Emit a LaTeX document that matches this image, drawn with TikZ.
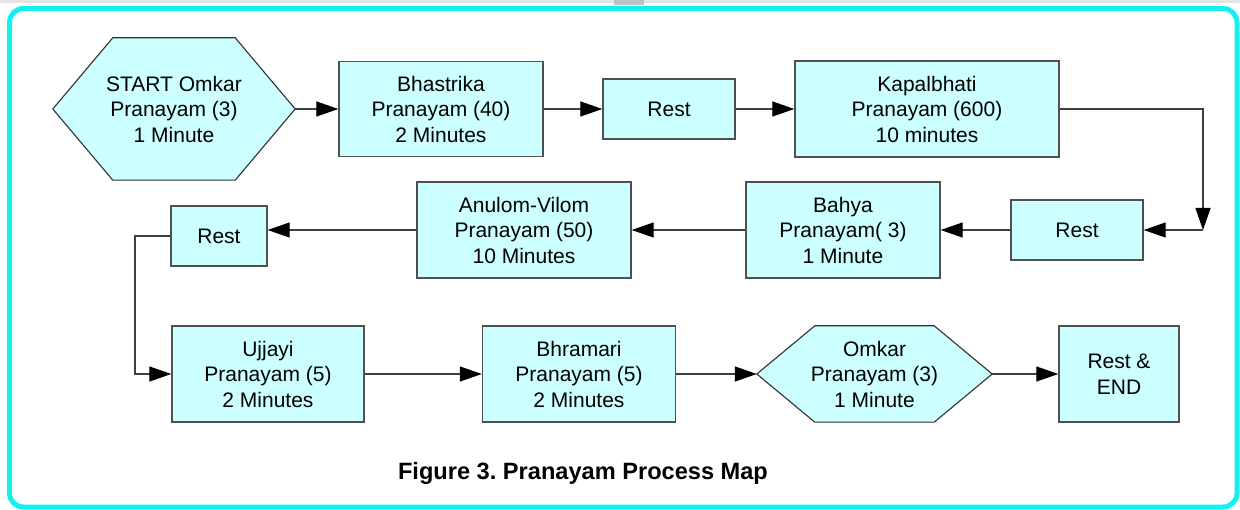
\documentclass[tikz,border=0pt]{standalone}
\usepackage{fontspec}
\setmainfont{Liberation Sans}
\usetikzlibrary{arrows.meta,backgrounds}
\frenchspacing
\newfontfamily\pmNodeFamily{Liberation Sans}
\newcommand\pmNodeFont{\pmNodeFamily\fontsize{21}{25.5}\selectfont}
\newcommand\pmCapFont{\pmNodeFamily\bfseries\fontsize{23.6}{28}\selectfont}
\definecolor{boxfill}{HTML}{CCFFFF}
\definecolor{boxline}{HTML}{505050}
\definecolor{hexline}{HTML}{303030}
\definecolor{lineclr}{HTML}{404040}
\definecolor{frameclr}{HTML}{12F0F0}
\definecolor{topgray}{HTML}{E4E4E4}
\tikzset{
  box/.style={draw=boxline, fill=boxfill, line width=1.4pt, inner sep=0pt,
    align=center, font=\pmNodeFont, text=black},
  hexnode/.style={inner sep=0pt, align=center, font=\pmNodeFont, text=black},
  hexshape/.style={draw=hexline, fill=boxfill, line width=1.1pt},
  conn/.style={draw=lineclr, line width=1.3pt,
    -{Triangle[length=22pt,width=15pt,color=black]}},
}
\begin{document}
\begin{tikzpicture}[x=1pt,y=-1pt]
\useasboundingbox (0,0) rectangle (1240,510);
% top strip and frame
\fill[topgray] (0,0) rectangle (1240,3);
\fill[topgray!85!black] (614,0) rectangle (644,5);
\draw[frameclr, line width=5pt, rounded corners=14pt] (9.5,8.5) rectangle (1237,507);

% row 1
\node[hexnode, minimum width=242pt, minimum height=142pt] (h1) at (174,109)
  {START Omkar\\Pranayam (3)\\1 Minute};
\node[box, minimum width=204pt, minimum height=95pt] (bh) at (441,109)
  {Bhastrika\\Pranayam (40)\\2 Minutes};
\node[box, minimum width=132pt, minimum height=60pt] (r1) at (669,109) {Rest};
\node[box, minimum width=264pt, minimum height=96pt] (kp) at (927,109)
  {Kapalbhati\\Pranayam (600)\\10 minutes};

% row 2
\node[box, minimum width=132pt, minimum height=60pt] (r2) at (1077,230) {Rest};
\node[box, minimum width=194pt, minimum height=96pt] (ba) at (843,230)
  {Bahya\\Pranayam( 3)\\1 Minute};
\node[box, minimum width=214pt, minimum height=96pt] (av) at (524,230)
  {Anulom-Vilom\\Pranayam (50)\\10 Minutes};
\node[box, minimum width=96pt, minimum height=60pt] (r3) at (219,236) {Rest};

% row 3
\node[box, minimum width=192pt, minimum height=96pt] (uj) at (268,374)
  {Ujjayi\\Pranayam (5)\\2 Minutes};
\node[box, minimum width=193pt, minimum height=96pt] (br) at (579,374)
  {Bhramari\\Pranayam (5)\\2 Minutes};
\node[hexnode, minimum width=235pt, minimum height=96pt] (h2) at (874.5,374)
  {Omkar\\Pranayam (3)\\1 Minute};
\node[box, minimum width=120pt, minimum height=96pt] (re) at (1119,374)
  {Rest \&\\END};

% caption
\node[font=\pmCapFont, inner sep=0pt, anchor=base] (cap) at (583,479)
  {Figure 3. Pranayam Process Map};

% hexagon outlines
\begin{pgfonlayer}{background}
\path[hexshape] (h1.west) -- ([xshift=60pt]h1.north west) -- ([xshift=-60pt]h1.north east)
  -- (h1.east) -- ([xshift=-60pt]h1.south east) -- ([xshift=60pt]h1.south west) -- cycle;
\path[hexshape] (h2.west) -- ([xshift=58pt]h2.north west) -- ([xshift=-58pt]h2.north east)
  -- (h2.east) -- ([xshift=-58pt]h2.south east) -- ([xshift=58pt]h2.south west) -- cycle;
\end{pgfonlayer}

% connectors
\coordinate (c1) at (1203,230);
\coordinate (c2) at (135,236);
\draw[conn] (h1.east) -- (bh.west);
\draw[conn] (bh.east) -- (r1.west);
\draw[conn] (r1.east) -- (kp.west);
\draw[conn] (kp.east) -| (c1);
\draw[conn] (c1) -- (r2.east);
\draw[conn] (r2.west) -- (ba.east);
\draw[conn] (ba.west) -- (av.east);
\draw[conn] (av.west) -- (av.west -| r3.east);
\draw[conn] (r3.west) -- (c2) |- (uj.west);
\draw[conn] (uj.east) -- (br.west);
\draw[conn] (br.east) -- (h2.west);
\draw[conn] (h2.east) -- (re.west);
\end{tikzpicture}
\end{document}
